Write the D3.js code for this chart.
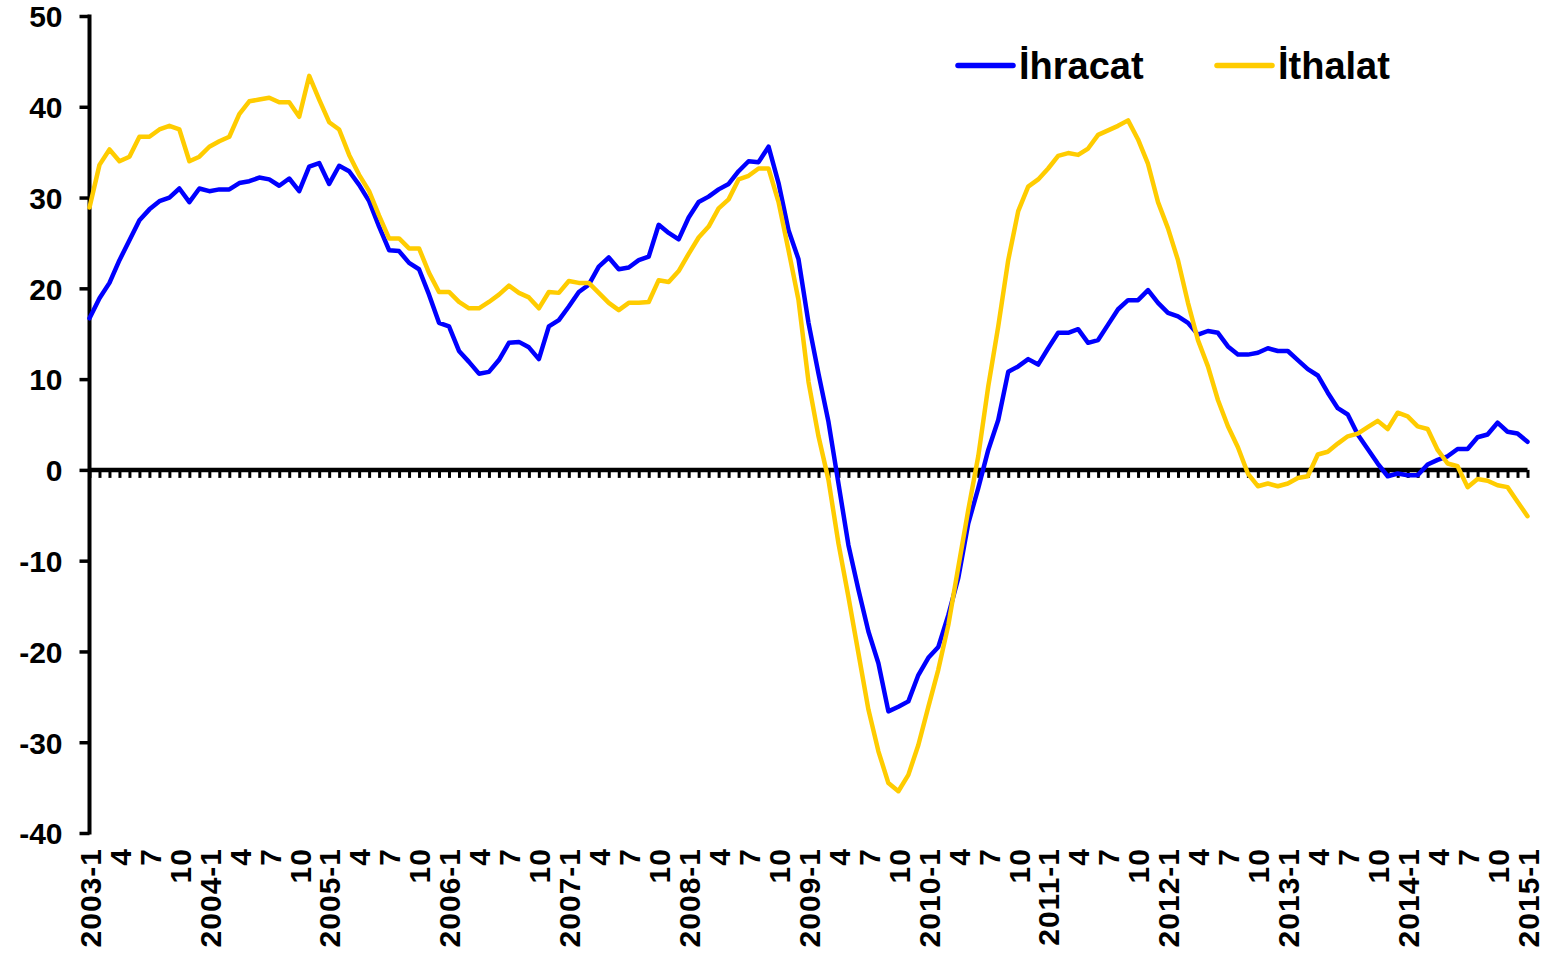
<!DOCTYPE html>
<html>
<head>
<meta charset="utf-8">
<script src="https://cdn.jsdelivr.net/npm/d3@7"></script>
<style>
  html, body { margin: 0; padding: 0; background: #fff; }
  svg { display: block; }
  text { font-family: "Liberation Sans", Arial, sans-serif; font-weight: bold; fill: #000; }
</style>
</head>
<body>
<svg id="chart" width="1552" height="958"></svg>
<script>
// Monthly periods, 2003-1 .. 2015-1
const firstYear = 2003;
const periodCount = 145;

// Annual % change, exports (İhracat)
const ihracat = [
  16.7, 18.9, 20.6, 23.1, 25.3, 27.5, 28.7, 29.6, 30.0, 31.0, 29.5, 31.0,
  30.7, 30.9, 30.9, 31.6, 31.8, 32.2, 32.0, 31.3, 32.1, 30.7, 33.4, 33.8,
  31.5, 33.5, 32.9, 31.4, 29.6, 26.8, 24.2, 24.1, 22.8, 22.1, 19.3, 16.2,
  15.8, 13.1, 11.9, 10.6, 10.8, 12.1, 14.0, 14.1, 13.5, 12.2, 15.8, 16.5,
  18.0, 19.6, 20.4, 22.4, 23.4, 22.1, 22.3, 23.1, 23.5, 27.0, 26.1, 25.4,
  27.8, 29.5, 30.1, 30.9, 31.5, 32.9, 34.0, 33.9, 35.6, 31.6, 26.4, 23.2,
  16.2, 10.6, 5.3, -1.5, -8.3, -13.2, -17.8, -21.3, -26.6, -26.1, -25.5, -22.6,
  -20.7, -19.5, -16.0, -11.9, -5.9, -2.0, 2.2, 5.5, 10.8, 11.4, 12.2, 11.6,
  13.4, 15.1, 15.1, 15.5, 14.0, 14.3, 16.0, 17.7, 18.7, 18.7, 19.8, 18.4,
  17.3, 16.9, 16.2, 14.9, 15.3, 15.1, 13.6, 12.7, 12.7, 12.9, 13.4, 13.1,
  13.1, 12.1, 11.1, 10.4, 8.5, 6.8, 6.1, 3.9, 2.3, 0.7, -0.7, -0.4,
  -0.6, -0.6, 0.6, 1.1, 1.5, 2.3, 2.3, 3.6, 3.9, 5.2, 4.2, 4.0,
  3.1
];

// Annual % change, imports (İthalat)
const ithalat = [
  28.9, 33.6, 35.3, 34.0, 34.5, 36.7, 36.7, 37.5, 37.9, 37.5, 34.0, 34.5,
  35.6, 36.2, 36.7, 39.2, 40.6, 40.8, 41.0, 40.5, 40.5, 38.9, 43.4, 40.8,
  38.3, 37.5, 34.7, 32.5, 30.7, 28.0, 25.5, 25.5, 24.4, 24.4, 21.7, 19.6,
  19.6, 18.5, 17.8, 17.8, 18.5, 19.3, 20.3, 19.5, 19.0, 17.8, 19.6, 19.5,
  20.8, 20.6, 20.6, 19.5, 18.4, 17.6, 18.4, 18.4, 18.5, 20.9, 20.7, 21.9,
  23.8, 25.6, 26.8, 28.8, 29.8, 32.0, 32.4, 33.2, 33.2, 29.5, 24.2, 18.7,
  9.7, 3.7, -1.1, -8.1, -14.0, -20.2, -26.4, -31.0, -34.5, -35.4, -33.6, -30.3,
  -26.1, -22.0, -17.1, -10.7, -4.4, 1.5, 9.2, 15.8, 23.1, 28.5, 31.2, 32.0,
  33.2, 34.6, 34.9, 34.7, 35.4, 36.9, 37.4, 37.9, 38.5, 36.4, 33.7, 29.5,
  26.6, 23.1, 18.4, 14.3, 11.4, 7.7, 4.8, 2.5, -0.4, -1.8, -1.5, -1.8,
  -1.5, -0.9, -0.7, 1.7, 2.0, 2.9, 3.7, 4.0, 4.7, 5.4, 4.5, 6.3,
  5.9, 4.8, 4.5, 2.2, 0.7, 0.4, -1.9, -1.0, -1.2, -1.7, -1.9, -3.5,
  -5.1
];

const yTicks = [-40, -30, -20, -10, 0, 10, 20, 30, 40, 50];
const seriesNames = ["İhracat", "İthalat"];
const seriesColors = ["#0000FF", "#FFCC00"];

// Category labels: "YYYY-1" for January, month number otherwise
const categories = d3.range(periodCount).map(i => {
  const year = firstYear + Math.floor(i / 12);
  const month = (i % 12) + 1;
  return month === 1 ? `${year}-1` : `${month}`;
});
const periods = d3.range(periodCount);
const labelledPeriods = periods.filter(i => i % 3 === 0);

const svg = d3.select("#chart");
svg.append("rect").attr("width", 1552).attr("height", 958).attr("fill", "#fff");

const x = d3.scalePoint().domain(periods).range([89.5, 1527.5]);
const y = d3.scaleLinear().domain([-40, 50]).range([833, 16]);

// Y axis
const yAxis = svg.append("g")
  .attr("transform", `translate(${89.5},0)`)
  .call(d3.axisLeft(y).tickValues(yTicks).tickSize(10).tickPadding(17).tickFormat(d => String(d)));
yAxis.select(".domain").remove();
yAxis.selectAll(".tick line").attr("stroke", "#000").attr("stroke-width", 3.5);
yAxis.selectAll(".tick text")
  .style("font-size", "30px")
  .attr("dy", "0.36em");
yAxis.append("line")
  .attr("x1", 0).attr("x2", 0)
  .attr("y1", y(50) - 1.5).attr("y2", y(-40) + 1.5)
  .attr("stroke", "#000").attr("stroke-width", 4);

// Zero line with monthly tick marks
const zeroAxis = svg.append("g")
  .attr("transform", `translate(0,${y(0)})`)
  .call(d3.axisBottom(x).tickSize(8).tickFormat(""));
zeroAxis.select(".domain").remove();
zeroAxis.selectAll(".tick line").attr("stroke", "#000").attr("stroke-width", 3);
zeroAxis.append("line")
  .attr("x1", x.range()[0]).attr("x2", x.range()[1])
  .attr("stroke", "#000").attr("stroke-width", 4.5);

// Category labels along the bottom
const labelAxis = svg.append("g")
  .attr("transform", `translate(0,${848})`)
  .call(d3.axisBottom(x).tickValues(labelledPeriods).tickSize(0).tickPadding(0)
    .tickFormat(i => categories[i]));
labelAxis.select(".domain").remove();
labelAxis.selectAll(".tick text")
  .style("font-size", "30px")
  .style("letter-spacing", "1px")
  .attr("text-anchor", "end")
  .attr("transform", "rotate(-90)")
  .attr("x", 0)
  .attr("y", 0)
  .attr("dy", "0.36em");

// Series lines
const line = d3.line()
  .x((d, i) => x(periods[i]))
  .y(d => y(d));

[ihracat, ithalat].forEach((values, k) => {
  svg.append("path")
    .datum(values)
    .attr("fill", "none")
    .attr("stroke", seriesColors[k])
    .attr("stroke-width", 4.5)
    .attr("stroke-linejoin", "round")
    .attr("stroke-linecap", "round")
    .attr("d", line);
});

// Legend
const legendX = [958, 1217];
seriesNames.forEach((name, k) => {
  const g = svg.append("g").attr("transform", `translate(${legendX[k]},0)`);
  g.append("line")
    .attr("x1", 0).attr("x2", 55)
    .attr("y1", 65.5).attr("y2", 65.5)
    .attr("stroke", seriesColors[k])
    .attr("stroke-width", 5.5)
    .attr("stroke-linecap", "round");
  g.append("text")
    .attr("x", 61)
    .attr("y", 79)
    .style("font-size", "38px")
    .text(name);
});
</script>
</body>
</html>
